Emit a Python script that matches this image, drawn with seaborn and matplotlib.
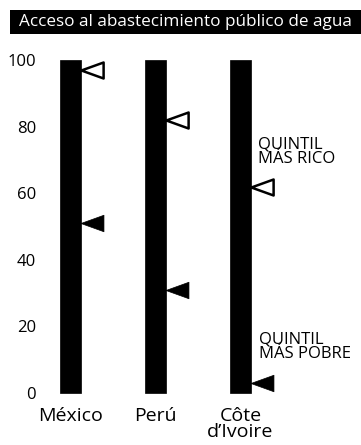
import numpy as np
import seaborn as sns
import matplotlib.pyplot as plt
import matplotlib.transforms as mtransforms
from matplotlib.patches import Rectangle

countries = ['México', 'Perú', 'Côte\nd\u2019Ivoire']
total = [100, 100, 100]
richest = [97, 82, 62]
poorest = [51, 31, 3]
yticks = [0, 20, 40, 60, 80, 100]

sns.set_style('white')
plt.rcParams['font.family'] = ['Open Sans', 'DejaVu Sans']
plt.rcParams['text.color'] = 'black'
plt.rcParams['xtick.color'] = 'black'
plt.rcParams['ytick.color'] = 'black'

fig = plt.figure(figsize=(3.61, 4.45), dpi=100)
ax = fig.add_axes([37.35 / 361, 48.7 / 445, 313.65 / 361, 346.3 / 445])

xpos = list(range(len(countries)))
sns.barplot(x=xpos, y=total, color='black', width=0.25, native_scale=True,
            saturation=1, ax=ax, edgecolor='black', linewidth=0.5)

# triangle pointing left, wider than tall
tri = [(-1, 0), (1, 0.72), (1, -0.72), (-1, 0)]
shift = mtransforms.offset_copy(ax.transData, fig=fig, x=21 / 100 * 72, y=0, units='points')
sns.scatterplot(x=xpos, y=richest, marker=tri, s=16 ** 2, color='white',
                edgecolor='black', linewidth=1.8, transform=shift, ax=ax, zorder=3)
sns.scatterplot(x=xpos, y=poorest, marker=tri, s=16.5 ** 2, color='black',
                edgecolor='black', linewidth=0.5, transform=shift, ax=ax, zorder=3)

ax.annotate('QUINTIL\nMÁS RICO', xy=(xpos[2], richest[2]), xytext=(12.6, 14.2),
            textcoords='offset points', fontsize=12, linespacing=0.85,
            ha='left', va='bottom')
ax.annotate('QUINTIL\nMÁS POBRE', xy=(xpos[2], poorest[2]), xytext=(13.3, 15.0),
            textcoords='offset points', fontsize=12, linespacing=0.85,
            ha='left', va='bottom')

ax.set_xlim(-0.39, 3.3)
ax.set_ylim(-1, 103)
ax.set_yticks(yticks)
ax.set_yticklabels([str(v) for v in yticks], fontsize=12)
ax.set_xticks(xpos)
ax.set_xticklabels(countries, fontsize=14, linespacing=0.8)
ax.tick_params(axis='both', length=0, colors='black')
ax.tick_params(axis='y', pad=1)
ax.tick_params(axis='x', pad=8)
for sp in ax.spines.values():
    sp.set_visible(False)
ax.set_xlabel('')
ax.set_ylabel('')

# title in black band
fig.patches.append(Rectangle((10 / 361, 1 - 34 / 445), 351 / 361, 24 / 445,
                             transform=fig.transFigure, facecolor='black',
                             edgecolor='none'))
fig.text(19 / 361, 1 - 22 / 445, 'Acceso al abastecimiento público de agua',
         color='white', fontsize=12.3, va='center', ha='left')

plt.savefig('out.png', dpi=100)
